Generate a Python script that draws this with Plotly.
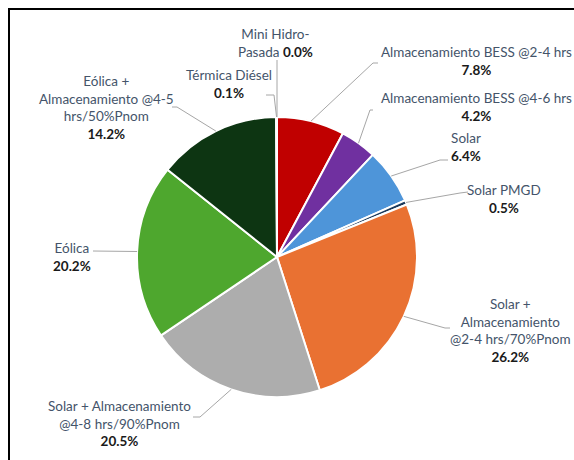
import math
import plotly.graph_objects as go

W, H = 574, 460

categories = [
    "Mini Hidro-Pasada",
    "Almacenamiento BESS @2-4 hrs",
    "Almacenamiento BESS @4-6 hrs",
    "Solar",
    "Solar PMGD",
    "Solar + Almacenamiento @2-4 hrs/70%Pnom",
    "Solar + Almacenamiento @4-8 hrs/90%Pnom",
    "Eólica",
    "Eólica + Almacenamiento @4-5 hrs/50%Pnom",
    "Térmica Diésel",
]
values = [0.0, 7.8, 4.2, 6.4, 0.5, 26.2, 20.5, 20.2, 14.2, 0.1]
label_texts = [
    "Mini Hidro-<br>Pasada",
    "Almacenamiento BESS @2-4 hrs<br>",
    "Almacenamiento BESS @4-6 hrs<br>",
    "Solar<br>",
    "Solar PMGD<br>",
    "Solar +<br>Almacenamiento<br>@2-4 hrs/70%Pnom<br>",
    "Solar + Almacenamiento<br>@4-8 hrs/90%Pnom<br>",
    "Eólica<br>",
    "Eólica +<br>Almacenamiento @4-5<br>hrs/50%Pnom<br>",
    "Térmica Diésel<br>",
]
colors = ["#2F5597", "#C00000", "#7030A0", "#4E95D9", "#1B3A5C",
          "#E97132", "#ADADAD", "#4EA72E", "#0D3512", "#7F7F7F"]

# layout (pixels)
CX, CY, R = 277, 257, 140
label_pos = [(275, 43), (477, 61), (476, 107), (466, 146.5), (504, 198.5),
             (510, 330.5), (119, 423.5), (72, 257), (106, 107.5), (229, 83.5)]
leader_start = [[(277, 60)], [(378, 63), (373, 63)], [(373, 110), (370, 110)],
                [(448, 160), (440, 160)], [(468, 192), (460, 193)],
                [(450, 328), (445, 328)], [(193, 417), (200, 417)],
                [(93, 251)], [(172, 107), (177, 107)], [(266, 95), (274, 95)]]

def px(x):
    return x / W

def py(y):
    return 1 - y / H

fig = go.Figure(go.Pie(
    labels=categories,
    values=values,
    sort=False,
    direction="clockwise",
    rotation=0,
    textinfo="none",
    hoverinfo="label+percent",
    marker=dict(colors=colors, line=dict(color="white", width=2)),
    domain=dict(x=[px(CX - R), px(CX + R)], y=[py(CY + R), py(CY - R)]),
    showlegend=False,
))

total = sum(values)
cum = 0.0
shapes = []
annotations = []
for i, v in enumerate(values):
    mid = (cum + v / 2) / total
    cum += v
    ang = 2 * math.pi * mid
    ex, ey = CX + R * math.sin(ang), CY - R * math.cos(ang)
    pts = leader_start[i] + [(ex, ey)]
    path = "M " + " L ".join(f"{px(x)},{py(y)}" for x, y in pts)
    shapes.append(dict(type="path", xref="paper", yref="paper", path=path,
                       line=dict(color="#A6A6A6", width=1)))
    pct = f"{v:.1f}%"
    sep = " " if i == 0 else ""
    txt = label_texts[i] + sep + f"<b><span style='color:#1a1a1a'>{pct}</span></b>"
    lx, ly = label_pos[i]
    annotations.append(dict(x=px(lx), y=py(ly), xref="paper", yref="paper",
                            text=txt, showarrow=False, xanchor="center",
                            yanchor="middle", align="center",
                            font=dict(family="Lato", size=13.5, color="#44546A")))

# outer frame (partially cropped)
shapes.append(dict(type="rect", xref="paper", yref="paper",
                   x0=px(9), y0=-0.2, x1=1.2, y1=py(9),
                   line=dict(color="#000000", width=2)))

fig.update_layout(
    width=W, height=H,
    margin=dict(l=0, r=0, t=0, b=0),
    paper_bgcolor="white", plot_bgcolor="white",
    shapes=shapes, annotations=annotations,
)

fig.write_html("out.html", config={"displayModeBar": False},
               post_script="document.body.style.margin='0';")
